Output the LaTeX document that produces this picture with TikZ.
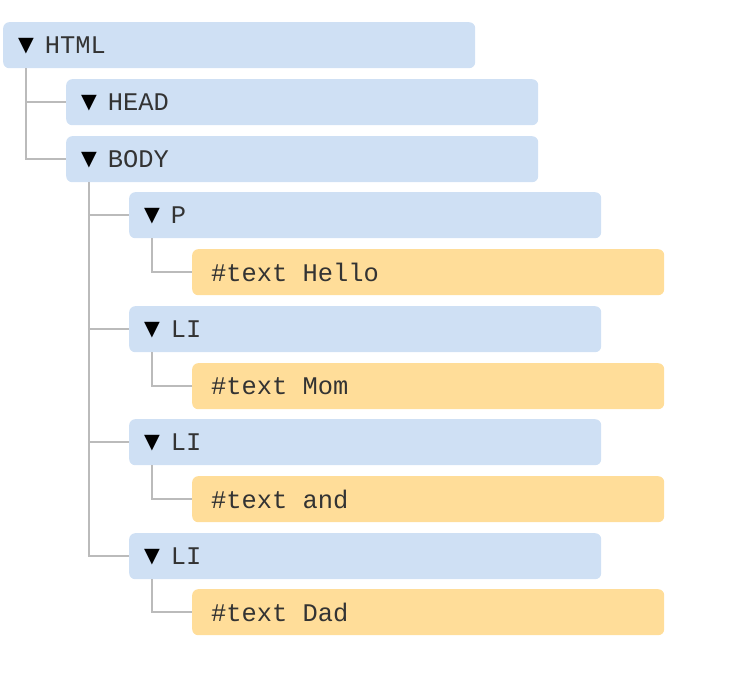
\documentclass[tikz,border=0pt]{standalone}
\usepackage{fontspec}
\setmonofont{Liberation Mono}
\newfontfamily\trifont{DejaVu Sans}
\definecolor{blueboxc}{HTML}{CFE0F4}
\definecolor{orangeboxc}{HTML}{FFDD99}
\definecolor{linec}{HTML}{BBBBBB}
\definecolor{textc}{HTML}{333333}
\newcommand{\tri}{\raisebox{2pt}{\trifont\fontsize{20.5}{22}\selectfont\color{black}▼}\hspace{11pt}}
\newcommand{\msp}{\hspace{0.6em}}
\tikzset{
  treebox/.style={anchor=north west, rounded corners=6pt, minimum height=46pt,
    text width=442pt, inner xsep=15pt, inner ysep=0pt, align=left,
    font=\ttfamily\fontsize{25.4}{30}\selectfont, text=textc},
  elbox/.style={treebox, fill=blueboxc},
  txtbox/.style={treebox, fill=orangeboxc},
  conn/.style={draw=linec, line width=1.5pt}
}
\begin{document}
\begin{tikzpicture}[x=1pt,y=1pt]
\useasboundingbox (0,0) rectangle (729,-678);
\node[elbox] (html) at (3,-22) {\tri HTML};
\node[elbox] (head) at (66,-79) {\tri HEAD};
\node[elbox] (body) at (66,-136) {\tri BODY};
\node[elbox] (p) at (129,-192) {\tri P};
\node[txtbox] (hello) at (192,-249) {\hspace{4pt}\#text\msp Hello};
\node[elbox] (li1) at (129,-306) {\tri LI};
\node[txtbox] (mom) at (192,-363) {\hspace{4pt}\#text\msp Mom};
\node[elbox] (li2) at (129,-419) {\tri LI};
\node[txtbox] (and) at (192,-476) {\hspace{4pt}\#text\msp and};
\node[elbox] (li3) at (129,-533) {\tri LI};
\node[txtbox] (dad) at (192,-589) {\hspace{4pt}\#text\msp Dad};
\draw[conn] ([xshift=23pt]html.south west) |- (head.west);
\draw[conn] ([xshift=23pt]html.south west) |- (body.west);
\draw[conn] ([xshift=23pt]body.south west) |- (p.west);
\draw[conn] ([xshift=23pt]body.south west) |- (li1.west);
\draw[conn] ([xshift=23pt]body.south west) |- (li2.west);
\draw[conn] ([xshift=23pt]body.south west) |- (li3.west);
\draw[conn] ([xshift=23pt]p.south west) |- (hello.west);
\draw[conn] ([xshift=23pt]li1.south west) |- (mom.west);
\draw[conn] ([xshift=23pt]li2.south west) |- (and.west);
\draw[conn] ([xshift=23pt]li3.south west) |- (dad.west);
\end{tikzpicture}
\end{document}
